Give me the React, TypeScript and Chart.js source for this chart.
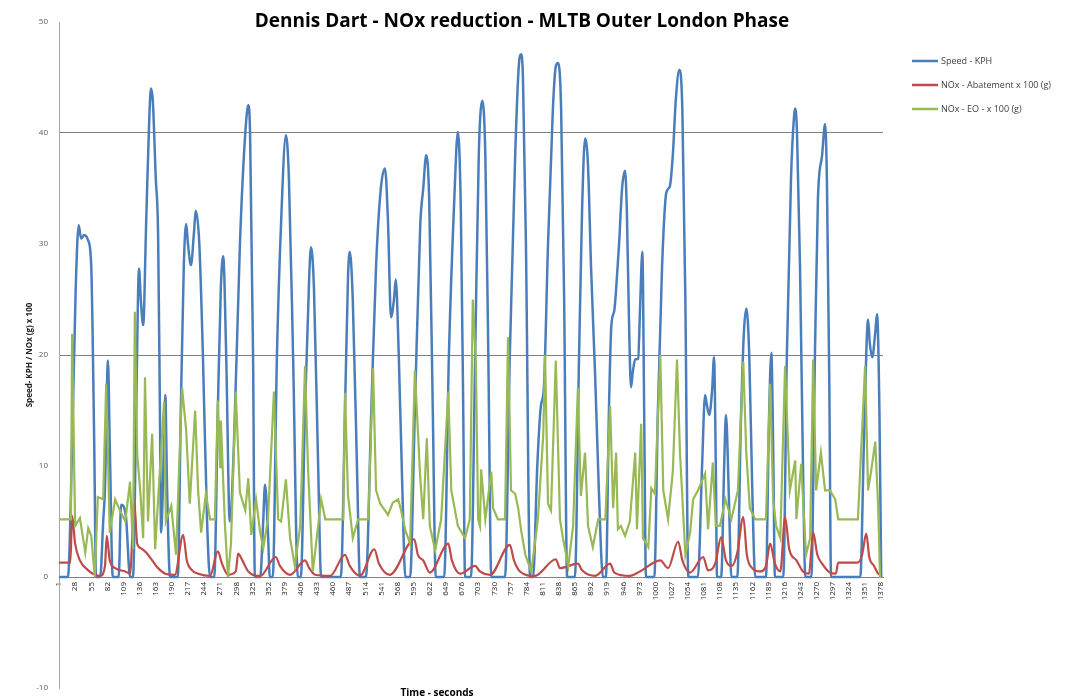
import React, { useEffect, useRef } from "react";
import { Chart, registerables } from "chart.js";

Chart.register(...registerables);

const chartTitle = "Dennis Dart - NOx reduction - MLTB Outer London Phase";
const xAxisTitle = "Time - seconds";
const yAxisTitle = "Speed- KPH / NOx (g) x 100";
const seriesNames = ["Speed - KPH", "NOx - Abatement x 100 (g)", "NOx - EO - x 100 (g)"];
const seriesColors = ["#4A7EBB", "#BE4B48", "#98B954"];

const xTickLabels = [1, 28, 55, 82, 109, 136, 163, 190, 217, 244, 271, 298, 325, 352, 379, 406, 433, 460, 487, 514, 541, 568, 595, 622, 649, 676, 703, 730, 757, 784, 811, 838, 865, 892, 919, 946, 973, 1000, 1027, 1054, 1081, 1108, 1135, 1162, 1189, 1216, 1243, 1270, 1297, 1324, 1351, 1378];
const yTickValues = [-10, 0, 10, 20, 30, 40, 50];
const yGridShown = [20, 40];

const speedTime = [1,16,23,29,34,38,43,50,55,60,63,70,75,78,83,86,91,101,105,113,120,125,130,135,138,142,147,152,155,158,163,167,170,172,175,179,182,187,200,205,210,214,217,222,227,230,236,242,249,254,261,267,272,276,281,287,294,304,313,318,321,326,329,338,343,346,351,354,359,366,373,381,386,393,401,406,413,420,423,428,435,440,473,480,485,488,493,500,505,515,524,532,540,547,552,557,562,565,570,576,581,589,597,606,611,616,621,627,632,646,654,663,669,674,678,681,691,698,704,710,715,720,725,748,756,765,771,775,778,783,790,795,802,808,813,820,828,833,837,842,847,852,865,872,877,882,887,892,899,905,912,917,922,926,931,934,939,944,949,952,956,959,962,966,971,974,978,981,984,998,1004,1011,1018,1024,1029,1034,1040,1045,1050,1055,1071,1078,1083,1086,1090,1095,1098,1101,1103,1110,1115,1118,1123,1127,1137,1143,1148,1152,1157,1162,1167,1185,1190,1194,1197,1200,1214,1220,1227,1232,1234,1237,1242,1247,1251,1261,1267,1272,1279,1284,1287,1291,1294,1343,1349,1356,1359,1363,1368,1371,1375,1378];
const speedValues = [0,0,12,26,31.7,30.5,30.8,30.3,28,12,0,
  0,5,8,19.5,12,0,
  0,6.5,5.5,0,0,14,27.8,25,22.7,32,41,44,43,36,30.7,15,4,8,16.4,8,0,
  0,15,28,31.8,30,28.1,31,33,30,20,5,0,
  0,15,26,28.9,20,5,12,30,40,42.5,40,20,0,
  0,5,8.3,4,0,
  0,20,32,39.8,36,20,0,
  0,15,27,29.7,26,10,0,
  0,15,27,29.3,25,10,0,
  0,15,28,35,36.8,32,23.4,25,26.8,20,8,0,
  0,15,31.7,35,38,34,15,0,
  0,20,34,40.1,33,15,0,
  0,20,38,42.9,38,20,0,
  0,20,38,46,47.1,45,30,0,
  0,10,15.4,17,30,42,46,46.3,42,25,0,
  0,20,33,39.5,37,28,18,8,0,
  0,15,22.6,24,25.9,30,35,36.6,33,22,17.1,18.5,19.6,19.7,24,29.3,15,0,
  0,15,28,34.6,35.2,38,43,45.7,42,25,0,
  0,10,16.4,15.5,14.6,17,19.8,10,0,
  0,10,14.6,7,0,
  0,14,22,24.2,20,8,0,
  0,14,20.2,12,0,
  0,20,36,41.5,42.2,40,28,10,0,
  0,20,34,38,40.8,36,18,0,
  0,12,23.2,21,19.8,22,23.7,15,0];

const abatementTime = [1,20,23,28,36,50,61,70,78,81,86,95,112,120,127,132,138,147,157,167,179,195,209,215,224,234,254,267,274,284,297,301,308,318,338,364,371,388,413,420,430,455,480,488,505,529,537,555,596,602,611,622,653,659,673,698,706,723,756,763,773,798,833,840,870,877,899,924,931,957,974,1008,1021,1038,1045,1058,1080,1088,1100,1110,1118,1128,1137,1147,1153,1162,1175,1185,1192,1200,1209,1217,1224,1236,1247,1257,1264,1271,1279,1292,1302,1306,1339,1346,1353,1358,1366,1373,1378];
const abatementValues = [1.3,1.3,5.5,3,1.5,0.6,0.2,0.1,1,3.7,1.5,0.8,0.5,0.3,6.8,3,2.6,2.2,1.5,0.8,0.3,0.2,3.8,1.5,0.6,0.3,0.1,2.3,1.2,0.2,0.5,2.1,1.5,0.5,0.1,1.8,1,0.2,1.5,0.8,0.2,0.1,2,1,0.1,2.5,1.2,0.2,3.4,2,1.5,0.4,3,1.5,0.3,1,0.5,0.2,2.9,1.5,0.5,0.1,1.6,0.8,1.2,0.6,0.1,1.2,0.4,0.1,0.5,1.5,0.8,3.2,1.5,0.4,1.8,0.6,1.2,3.6,1.5,1,2.2,5.4,2,0.8,0.5,1,3,1.2,0.5,5.4,2.5,1.5,0.5,0.3,4,2,1.2,0.4,0.3,1.3,1.3,2,3.9,1.8,1,0.3,0.2];

const engineOutTime = [1,21,23,28,36,45,50,55,61,66,75,80,83,86,95,103,112,120,125,128,132,137,142,145,150,157,162,167,177,180,189,197,207,214,220,229,234,239,247,254,262,267,271,272,279,284,289,297,304,313,318,323,331,338,343,351,361,368,373,381,388,396,405,413,418,426,435,440,447,468,477,480,485,493,502,519,527,532,539,552,560,569,574,581,589,597,606,611,617,622,631,641,653,658,669,681,689,694,699,703,706,708,715,725,728,736,748,753,758,765,770,775,782,792,803,812,815,820,825,833,840,845,854,862,870,875,882,887,895,904,916,924,929,934,937,942,949,957,966,969,976,979,988,993,999,1008,1013,1021,1029,1036,1041,1050,1058,1063,1071,1083,1088,1096,1101,1108,1117,1127,1138,1147,1152,1158,1167,1172,1185,1192,1197,1202,1209,1217,1225,1234,1236,1244,1252,1259,1264,1269,1277,1284,1292,1301,1306,1339,1351,1356,1361,1368,1373,1376,1378];
const engineOutValues = [5.2,5.2,21.9,4.6,5.3,2.2,4.4,3.7,0,7.2,7,17.4,11,4,7,6,5,8.6,2.5,23.9,11,7.8,3.5,18,5,12.9,2.5,7,15.8,5,6.4,2,17.1,13.2,6.6,15,7.8,4,7.5,5.2,5.2,15.9,9.9,14.1,4.6,0,3,16.7,7.6,6,8.9,3.8,7,4,2.6,5.2,16.7,5.2,5,8.8,3.5,1,4.6,19,9.9,0.5,4.6,7,5.2,5.2,5.2,16.6,7.4,3.5,5.2,5.2,18.8,7.8,6.6,5.6,6.7,7,6,4.2,3,18.6,8.9,5.2,12.5,4.6,2.4,5.2,16.7,7.8,4.6,3.5,5.2,25,19.5,5.2,4.6,9.7,5.2,9.5,6.2,5.2,5.2,21.6,7.8,7.5,6.2,4.2,2,0.5,5.2,12.8,20,6.6,6,19.5,5.2,3.5,1,4.6,17,7.3,11.2,4.6,2.7,5.2,5.2,15.4,6.2,11.2,4.3,4.6,3.7,5,11.2,4.3,13.8,3.5,2.7,8,7.5,20,7.8,5.2,9.5,19.6,11.2,2,4,7,7.8,9.3,4.3,10.3,4.6,4.6,7,5.2,7.8,19.4,11.2,6.2,5.2,5.2,5.2,17.4,7,4.6,3.5,19,7.8,10.5,5.2,10.2,2,3.5,19.6,7.8,11.2,7.8,7.8,7,5.2,5.2,19,7.8,9.5,12.2,6.2,0,0];

const zip = (t: number[], v: number[]) => {
  const n = Math.min(t.length, v.length);
  const out: { x: number; y: number }[] = [];
  for (let i = 0; i < n; i++) out.push({ x: t[i], y: v[i] });
  return out;
};

const overlayPlugin = {
  id: "overlayText",
  afterDraw(chart: any) {
    const { ctx, chartArea } = chart;
    ctx.save();
    ctx.fillStyle = "#000000";
    ctx.font = "bold 19px 'Open Sans'";
    ctx.textAlign = "center";
    ctx.textBaseline = "middle";
    ctx.fillText(chartTitle, 522, 22);
    ctx.font = "bold 10px 'Open Sans'";
    ctx.fillText(xAxisTitle, 437, chartArea.bottom + 5);
    ctx.font = "9px 'Open Sans'";
    ctx.textAlign = "left";
    chart.data.datasets.forEach((ds: any, i: number) => {
      const y = 61 + i * 24;
      ctx.strokeStyle = ds.borderColor;
      ctx.lineWidth = 2.5;
      ctx.beginPath();
      ctx.moveTo(912, y);
      ctx.lineTo(938, y);
      ctx.stroke();
      ctx.fillStyle = "#404040";
      ctx.fillText(ds.label, 941, y);
    });
    ctx.restore();
  },
};

export default function App() {
  const ref = useRef<HTMLCanvasElement>(null);
  useEffect(() => {
    if (!ref.current) return;
    const chart = new Chart(ref.current, {
      type: "line",
      data: {
        datasets: [
          {
            label: seriesNames[0],
            data: zip(speedTime, speedValues),
            borderColor: seriesColors[0],
            backgroundColor: seriesColors[0],
            borderWidth: 2.5,
            pointRadius: 0,
            cubicInterpolationMode: "monotone",
            order: 3,
          },
          {
            label: seriesNames[1],
            data: zip(abatementTime, abatementValues),
            borderColor: seriesColors[1],
            backgroundColor: seriesColors[1],
            borderWidth: 2.2,
            pointRadius: 0,
            cubicInterpolationMode: "monotone",
            order: 2,
          },
          {
            label: seriesNames[2],
            data: zip(engineOutTime, engineOutValues),
            borderColor: seriesColors[2],
            backgroundColor: seriesColors[2],
            borderWidth: 2.2,
            pointRadius: 0,
            tension: 0,
            order: 1,
          },
        ],
      },
      options: {
        animation: false,
        responsive: false,
        devicePixelRatio: 1,
        layout: { padding: { left: 0, right: 196, top: 22, bottom: 8 } },
        plugins: {
          legend: { display: false },
          title: { display: false },
          tooltip: { enabled: false },
        },
        scales: {
          x: {
            type: "linear",
            position: { y: 0 } as any,
            min: 1,
            max: 1381,
            afterBuildTicks: (scale: any) => {
              scale.ticks = xTickLabels.map((v) => ({ value: v }));
            },
            grid: { display: false, drawTicks: false },
            border: { display: true, color: "#808080", width: 1 },
            ticks: {
              autoSkip: false,
              minRotation: 90,
              maxRotation: 90,
              padding: 5,
              color: "#222222",
              font: { family: "'Open Sans'", size: 8 },
              callback: (v: any) => String(v),
            },
          },
          y: {
            type: "linear",
            min: -10,
            max: 50,
            afterBuildTicks: (scale: any) => {
              scale.ticks = yTickValues.map((v) => ({ value: v }));
            },
            afterFit: (scale: any) => {
              scale.width = 59;
            },
            grid: {
              drawTicks: true,
              tickLength: 11,
              tickColor: "rgba(0,0,0,0)",
              color: (c: any) => (yGridShown.includes(c.tick?.value) ? "#7f7f7f" : "rgba(0,0,0,0)"),
              lineWidth: 1,
            },
            border: { display: true, color: "#a6a6a6", width: 1 },
            ticks: {
              padding: 0,
              color: "#595959",
              font: { family: "'Open Sans'", size: 8 },
            },
            title: {
              display: true,
              text: yAxisTitle,
              color: "#222222",
              font: { family: "'Open Sans'", size: 8, weight: "bold" },
              padding: { top: 25, bottom: 0 },
            },
          },
        },
      },
      plugins: [overlayPlugin],
    });
    return () => chart.destroy();
  }, []);
  return (
    <canvas
      ref={ref}
      width={1079}
      height={696}
      style={{ position: "fixed", left: 0, top: 0, display: "block", width: 1079, height: 696 }}
    />
  );
}
